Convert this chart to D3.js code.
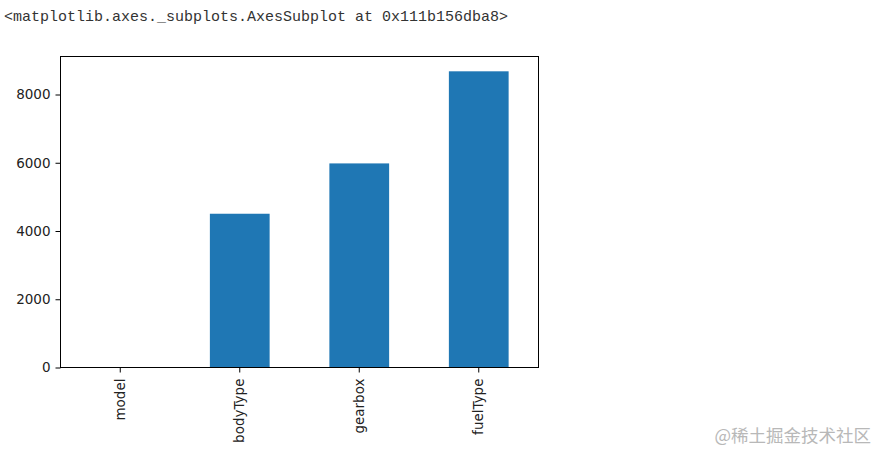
<!DOCTYPE html>
<html>
<head>
<meta charset="utf-8">
<script src="https://cdn.jsdelivr.net/npm/d3@7"></script>
<style>
  body { margin: 0; background: #fff; }
  svg { display: block; }
</style>
</head>
<body>
<div id="chart"></div>
<script>

var categories = ['model', 'bodyType', 'gearbox', 'fuelType'];
var values = [1, 4506, 5981, 8680];
var yTicks = [0, 2000, 4000, 6000, 8000];
var outText = '<matplotlib.axes._subplots.AxesSubplot at 0x111b156dba8>';
var markText = '@稀土掘金技术社区';

var width = 878, height = 451;
var plotLeft = 60.5, plotRight = 538.5, plotTop = 56.5, plotBottom = 367.5;

var svg = d3.select('#chart')
            .append('svg')
            .attr('width', width)
            .attr('height', height);

// the notebook's output line
svg.append('text')
   .attr('x', 4)
   .attr('y', 21)
   .attr('font-family', 'Liberation Mono, monospace')
   .attr('font-size', 15)
   .attr('fill', '#333')
   .text(outText);

var x = d3.scaleBand()
          .domain(categories)
          .range([plotLeft, plotRight])
          .paddingInner(0.5)
          .paddingOuter(0.25);

var y = d3.scaleLinear()
          .domain([0, d3.max(values) * 1.05])
          .range([plotBottom, plotTop]);

svg.selectAll('rect.bar')
   .data(categories).enter()
   .append('rect')
   .attr('class', 'bar')
   .attr('x', function(d) { return x(d); })
   .attr('width', x.bandwidth())
   .attr('y', function(d, i) { return y(values[i]); })
   .attr('height', function(d, i) { return y(0) - y(values[i]); })
   .attr('fill', '#1f77b4');

// y axis
var yAxis = svg.append('g')
               .attr('transform', 'translate(' + plotLeft + ',0)')
               .call(d3.axisLeft(y).tickValues(yTicks).tickSize(5).tickPadding(5).tickFormat(d3.format('d')));
yAxis.select('.domain').remove();
yAxis.selectAll('text')
     .attr('font-family', 'DejaVu Sans, sans-serif')
     .attr('font-size', 13.5)
     .attr('fill', '#222');

// x axis
var xAxis = svg.append('g')
               .attr('transform', 'translate(0,' + plotBottom + ')')
               .call(d3.axisBottom(x).tickSize(5).tickPadding(0));
xAxis.select('.domain').remove();
xAxis.selectAll('text')
     .attr('font-family', 'DejaVu Sans, sans-serif')
     .attr('font-size', 13.5)
     .attr('fill', '#222')
     .attr('text-anchor', 'end')
     .attr('dy', '0.35em')
     .attr('transform', 'translate(0,11) rotate(-90)')
     .attr('x', 0)
     .attr('y', 0);

// frame
svg.append('rect')
   .attr('x', plotLeft)
   .attr('y', plotTop)
   .attr('width', plotRight - plotLeft)
   .attr('height', plotBottom - plotTop)
   .attr('fill', 'none')
   .attr('stroke', '#000')
   .attr('stroke-width', 1);

// watermark
svg.append('text')
   .attr('x', 871)
   .attr('y', 442)
   .attr('text-anchor', 'end')
   .attr('font-family', 'Noto Sans CJK SC, sans-serif')
   .attr('font-size', 17.5)
   .attr('fill', '#b8b8b8')
   .text(markText);

</script>
</body>
</html>
